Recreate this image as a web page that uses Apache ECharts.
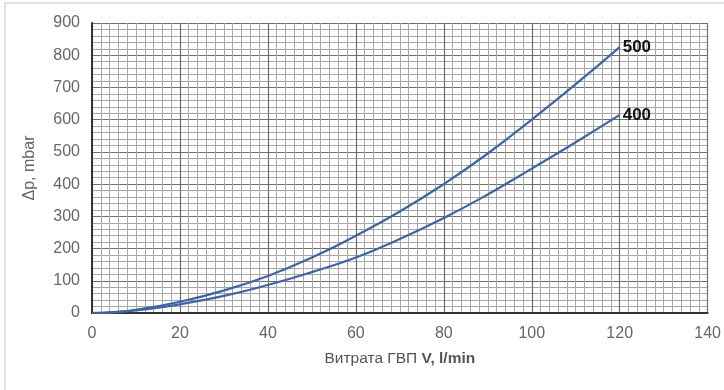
<!DOCTYPE html>
<html>
<head>
<meta charset="utf-8">
<script src="https://cdn.jsdelivr.net/npm/echarts@6/dist/echarts.min.js"></script>
<style>
html, body { margin: 0; padding: 0; background: #fff; }
#main { width: 724px; height: 390px; }
</style>
</head>
<body>
<div id="main"></div>
<script>
// витрата, l/min
var flow = [0, 5, 10, 20, 30, 40, 50, 60, 70, 80, 90, 100, 110, 120];
// Δp, mbar
var dp500 = [0, 3, 10, 35, 70, 115, 172, 240, 315, 400, 495, 600, 710, 825];
var dp400 = [0, 2, 8, 27, 53, 87, 127, 172, 230, 295, 368, 448, 530, 615];
var seriesNames = ['500', '400'];

function pairs(xs, ys) {
    return xs.map(function (x, i) { return [x, ys[i]]; });
}

var myChart = echarts.init(document.getElementById('main'));
var font = 'Liberation Sans, Arial, sans-serif';

var option = {
    backgroundColor: '#fff',
    animation: false,
    grid: { left: 92, right: 16, top: 23, bottom: 77 },
    graphic: [{
        type: 'rect',
        shape: { x: 5, y: 3, width: 730, height: 400 },
        style: { fill: 'none', stroke: '#d8d8d4', lineWidth: 1.5 },
        silent: true
    }],
    xAxis: {
        type: 'value',
        min: 0, max: 140, interval: 20,
        name: '{n|Витрата ГВП }{b|V, l/min}',
        nameLocation: 'middle',
        nameGap: 38,
        nameTextStyle: {
            rich: {
                n: { fontFamily: font, fontSize: 15.5, color: '#555' },
                b: { fontFamily: font, fontSize: 15.5, color: '#555', fontWeight: 'bold' }
            }
        },
        axisLine: { show: true, lineStyle: { color: '#333', width: 2 } },
        axisTick: { show: false },
        axisLabel: { fontFamily: font, fontSize: 16, color: '#666', margin: 13 },
        splitLine: { show: true, lineStyle: { color: '#6e6e6e', width: 1.2 } },
        minorTick: { show: false, splitNumber: 10 },
        minorSplitLine: { show: true, lineStyle: { color: '#a8a8a8', width: 1 } }
    },
    yAxis: {
        type: 'value',
        min: 0, max: 900, interval: 100,
        name: 'Δp, mbar',
        nameLocation: 'middle',
        nameGap: 54,
        nameRotate: 90,
        nameTextStyle: { fontFamily: font, fontSize: 16, color: '#666' },
        axisLine: { show: true, lineStyle: { color: '#333', width: 2 } },
        axisTick: { show: false },
        axisLabel: { fontFamily: font, fontSize: 16, color: '#666', margin: 12 },
        splitLine: { show: true, lineStyle: { color: '#6e6e6e', width: 1.2 } },
        minorTick: { show: false, splitNumber: 5 },
        minorSplitLine: { show: true, lineStyle: { color: '#a8a8a8', width: 1 } }
    },
    series: [dp500, dp400].map(function (vals, i) {
        return {
            name: seriesNames[i],
            type: 'line',
            smooth: true,
            showSymbol: false,
            data: pairs(flow, vals),
            lineStyle: { color: '#3d64a8', width: 2.2 },
            endLabel: {
                show: true,
                formatter: '{a}',
                fontFamily: font,
                fontSize: 17,
                fontWeight: 'bold',
                color: '#111',
                distance: 3
            }
        };
    })
};

myChart.setOption(option);
</script>
</body>
</html>
